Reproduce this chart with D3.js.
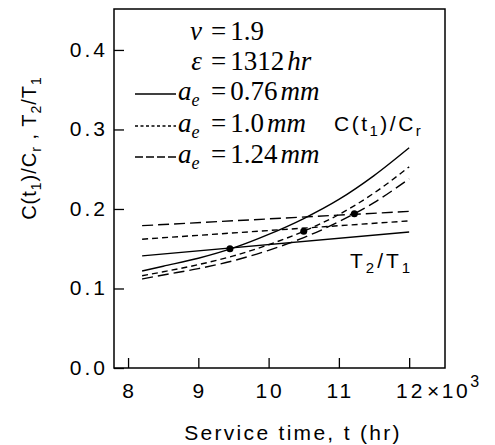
<!DOCTYPE html>
<html lang="en">
<head>
  <meta charset="UTF-8">
  <style>
    body { margin: 0; background: #fff; }
    svg text { fill: #000; }
    .sans { font-family: Arial, "Liberation Sans", sans-serif; }
    .serif { font-family: "Times New Roman", "Liberation Serif", serif; }
  </style>
  <script src="https://cdn.jsdelivr.net/npm/d3@7"></script>
</head>
<body>
  <div id="wrapper"></div>
  <script>
    // service time (x10^3 hr) where the curves are sampled
    const tGrid = [8.2, 8.5, 9.0, 9.5, 10.0, 10.5, 11.0, 11.5, 12.0];
    // C(t1)/Cr for each crack size
    const cRatio076 = [0.122, 0.128, 0.138, 0.151, 0.168, 0.188, 0.212, 0.242, 0.277];
    const cRatio100 = [0.116, 0.121, 0.130, 0.141, 0.155, 0.172, 0.193, 0.220, 0.253];
    const cRatio124 = [0.112, 0.117, 0.125, 0.135, 0.148, 0.164, 0.184, 0.208, 0.238];
    // T2/T1 lines
    const tLine = [8.2, 12.0];
    const tRatio076 = [0.141, 0.171];
    const tRatio100 = [0.162, 0.185];
    const tRatio124 = [0.179, 0.197];
    // intersection points
    const dotT = [9.45, 10.5, 11.22];
    const dotV = [0.150, 0.172, 0.194];

    const xTicks = [8, 9, 10, 11, 12];
    const yTicks = [0.0, 0.1, 0.2, 0.3, 0.4];
    const legendLabels = ["0.76", "1.0", "1.24"];

    const width = 495;
    const height = 445;
    const margin = { top: 9, right: 50, bottom: 77, left: 114 };
    const boundedWidth = width - margin.left - margin.right;
    const boundedHeight = height - margin.top - margin.bottom;

    const svg = d3.select("#wrapper")
      .append("svg")
      .attr("width", width)
      .attr("height", height);

    const bounds = svg.append("g")
      .attr("transform", `translate(${margin.left},${margin.top})`);

    const xScale = d3.scaleLinear()
      .domain([7.8, 12.51])
      .range([0, boundedWidth]);

    const yScale = d3.scaleLinear()
      .domain([0, 0.4515])
      .range([boundedHeight, 0]);

    // frame
    bounds.append("rect")
      .attr("width", boundedWidth)
      .attr("height", boundedHeight)
      .attr("fill", "none")
      .attr("stroke", "#000")
      .attr("stroke-width", 1.5);

    // axes with inward ticks
    const xAxis = bounds.append("g")
      .attr("transform", `translate(0,${boundedHeight})`)
      .call(d3.axisBottom(xScale).tickValues(xTicks).tickSize(-10));
    xAxis.select(".domain").remove();
    xAxis.selectAll("line").attr("stroke-width", 1.3);
    xAxis.selectAll("text").remove();

    const yAxis = bounds.append("g")
      .call(d3.axisLeft(yScale).tickValues(yTicks).tickSize(-10));
    yAxis.select(".domain").remove();
    yAxis.selectAll("line").attr("stroke-width", 1.3);
    yAxis.selectAll("text").remove();

    // tick labels
    const tickFont = "21px";
    const tickSpacing = 3;
    svg.append("g").selectAll("text")
      .data(xTicks)
      .join("text")
      .attr("class", "sans")
      .attr("x", d => margin.left + xScale(d) + tickSpacing / 2)
      .attr("y", 398)
      .attr("text-anchor", "middle")
      .style("font-size", tickFont)
      .style("letter-spacing", tickSpacing + "px")
      .text(d => d);

    svg.append("g").selectAll("text")
      .data(yTicks)
      .join("text")
      .attr("class", "sans")
      .attr("x", 105 + tickSpacing)
      .attr("y", d => margin.top + yScale(d) + 7)
      .attr("text-anchor", "end")
      .style("font-size", tickFont)
      .style("letter-spacing", tickSpacing + "px")
      .text(d => d3.format(".1f")(d));

    const mult = svg.append("text")
      .attr("class", "sans")
      .attr("x", 427)
      .attr("y", 398)
      .style("font-size", tickFont)
      .style("letter-spacing", "2.5px")
      .text("\u00d710");
    mult.append("tspan").attr("dy", -11).style("font-size", "16px").text("3");

    // axis titles
    svg.append("text")
      .attr("class", "sans")
      .attr("x", 293)
      .attr("y", 440)
      .attr("text-anchor", "middle")
      .style("font-size", "21px")
      .style("letter-spacing", "2.3px")
      .text("Service time, t (hr)");

    const yTitle = svg.append("text")
      .attr("class", "sans")
      .attr("transform", "translate(36,148) rotate(-90)")
      .attr("text-anchor", "middle")
      .style("font-size", "20px")
      .style("letter-spacing", "1px");
    yTitle.append("tspan").text("C(t");
    yTitle.append("tspan").attr("dy", 5).style("font-size", "14px").text("1");
    yTitle.append("tspan").attr("dy", -5).text(")/C");
    yTitle.append("tspan").attr("dy", 5).style("font-size", "14px").text("r");
    yTitle.append("tspan").attr("dy", -5).text(" , T");
    yTitle.append("tspan").attr("dy", 5).style("font-size", "14px").text("2");
    yTitle.append("tspan").attr("dy", -5).text("/T");
    yTitle.append("tspan").attr("dy", 5).style("font-size", "14px").text("1");

    // curves
    const styles = [
      { dash: null, legendDash: null },
      { dash: "6,4", legendDash: "3,2.5" },
      { dash: "11,5", legendDash: "8,3" },
    ];
    const cSeries = [cRatio076, cRatio100, cRatio124];
    const tSeries = [tRatio076, tRatio100, tRatio124];

    const line = d3.line()
      .x(d => xScale(d[0]))
      .y(d => yScale(d[1]))
      .curve(d3.curveMonotoneX);

    cSeries.forEach((vals, i) => {
      bounds.append("path")
        .attr("d", line(tGrid.map((t, j) => [t, vals[j]])))
        .attr("fill", "none")
        .attr("stroke", "#000")
        .attr("stroke-width", 1.4)
        .attr("stroke-dasharray", styles[i].dash);
    });

    tSeries.forEach((vals, i) => {
      bounds.append("path")
        .attr("d", line(tLine.map((t, j) => [t, vals[j]])))
        .attr("fill", "none")
        .attr("stroke", "#000")
        .attr("stroke-width", 1.4)
        .attr("stroke-dasharray", styles[i].dash);
    });

    bounds.selectAll(".dot")
      .data(dotT)
      .join("circle")
      .attr("class", "dot")
      .attr("cx", d => xScale(d))
      .attr("cy", (d, i) => yScale(dotV[i]))
      .attr("r", 3.5)
      .attr("fill", "#000");

    // curve labels
    const cLabel = svg.append("text")
      .attr("class", "sans")
      .attr("x", 334)
      .attr("y", 131)
      .style("font-size", "21px")
      .style("letter-spacing", "2.5px");
    cLabel.append("tspan").text("C(t");
    cLabel.append("tspan").attr("dy", 5).style("font-size", "15px").text("1");
    cLabel.append("tspan").attr("dy", -5).text(")/C");
    cLabel.append("tspan").attr("dy", 5).style("font-size", "15px").text("r");

    const tLabel = svg.append("text")
      .attr("class", "sans")
      .attr("x", 350)
      .attr("y", 268)
      .style("font-size", "21px")
      .style("letter-spacing", "3px");
    tLabel.append("tspan").text("T");
    tLabel.append("tspan").attr("dy", 5).style("font-size", "15px").text("2");
    tLabel.append("tspan").attr("dy", -5).text("/T");
    tLabel.append("tspan").attr("dy", 5).style("font-size", "15px").text("1");

    // legend
    const legend = svg.append("g").attr("class", "serif");
    const rowY = [40, 70, 100, 132, 163];
    const eqX = 211;
    const legendFont = "27px";

    function valueText(y, num, unit) {
      const t = legend.append("text")
        .attr("x", eqX).attr("y", y)
        .style("font-size", legendFont);
      t.append("tspan").text("=");
      t.append("tspan").attr("dx", 4).text(num);
      if (unit) t.append("tspan").attr("dx", 3).style("font-style", "italic").text(unit);
    }

    legend.append("text")
      .attr("x", eqX - 9).attr("y", rowY[0])
      .attr("text-anchor", "end")
      .style("font-size", legendFont).style("font-style", "italic")
      .text("\u03bd");
    valueText(rowY[0], "1.9", null);

    legend.append("text")
      .attr("x", eqX - 9).attr("y", rowY[1])
      .attr("text-anchor", "end")
      .style("font-size", legendFont).style("font-style", "italic")
      .text("\u03b5");
    valueText(rowY[1], "1312", "hr");

    legendLabels.forEach((lab, i) => {
      const y = rowY[i + 2];
      legend.append("line")
        .attr("x1", 135).attr("x2", 176)
        .attr("y1", y - 6).attr("y2", y - 6)
        .attr("stroke", "#000")
        .attr("stroke-width", 1.4)
        .attr("stroke-dasharray", styles[i].legendDash);
      const ae = legend.append("text")
        .attr("x", 178).attr("y", y)
        .style("font-size", legendFont).style("font-style", "italic");
      ae.append("tspan").text("a");
      ae.append("tspan").attr("dy", 6).style("font-size", "18px").text("e");
      valueText(y, lab, "mm");
    });
  </script>
</body>
</html>
